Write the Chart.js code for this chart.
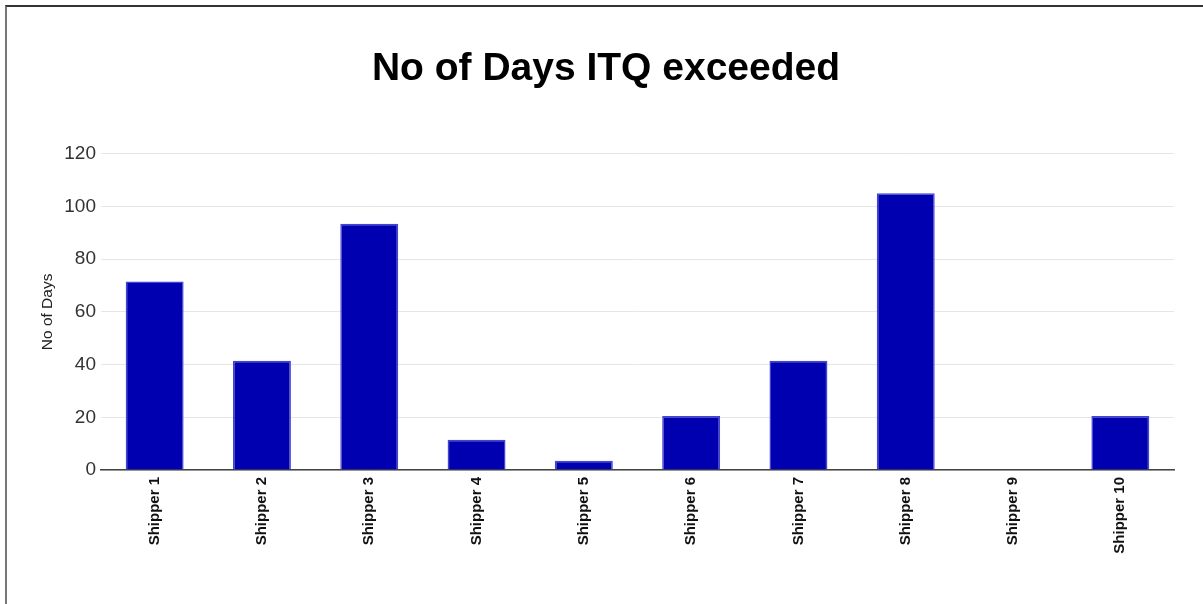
<!DOCTYPE html>
<html>
<head>
<meta charset="utf-8">
<title>No of Days ITQ exceeded</title>
<script src="https://cdn.jsdelivr.net/npm/chart.js@4"></script>
<style>
  html, body { margin: 0; padding: 0; background: #fff; overflow: hidden; }
  #wrap { position: relative; width: 1203px; height: 604px; }
  #frame {
    position: absolute; left: 5px; top: 5px; right: -10px; bottom: -10px;
    border-top: 2px solid #333; border-left: 2px solid #777;
  }
  #chart { position: absolute; left: 0; top: 0; }
</style>
</head>
<body>
<div id="wrap">
  <div id="frame"></div>
  <canvas id="chart" width="1203" height="604"></canvas>
</div>
<script>
// chart data
const shippers = ["Shipper 1", "Shipper 2", "Shipper 3", "Shipper 4", "Shipper 5",
  "Shipper 6", "Shipper 7", "Shipper 8", "Shipper 9", "Shipper 10"];
const daysExceeded = [71.5, 41.5, 93.5, 11.5, 3.5, 20.5, 41.5, 105, 0, 20.5];
const yTicks = [0, 20, 40, 60, 80, 100, 120];

const fontFamily = "'Liberation Sans', Arial, Helvetica, sans-serif";

const ctx = document.getElementById("chart").getContext("2d");
const chart = new Chart(ctx, {
  type: "bar",
  data: {
    labels: shippers,
    datasets: [
      {
        label: "No of Days",
        data: daysExceeded,
        backgroundColor: "#0000b0",
        borderColor: "#4444d4",
        borderWidth: 1.5,
        categoryPercentage: 1,
        barPercentage: 0.54,
      },
    ],
  },
  options: {
    responsive: false,
    animation: false,
    layout: {
      padding: { top: 0, left: 38, right: 29, bottom: 0 },
    },
    plugins: {
      legend: { display: false },
      tooltip: { enabled: false },
      title: {
        display: true,
        text: "No of Days ITQ exceeded",
        color: "#000",
        font: { family: fontFamily, size: 39, weight: "bold" },
        padding: { top: 46, bottom: 61 },
      },
    },
    scales: {
      x: {
        grid: { display: false, drawTicks: false },
        border: { display: true, color: "#444", width: 1.5 },
        ticks: {
          color: "#111",
          font: { family: fontFamily, size: 15, weight: "bold" },
          minRotation: 90,
          maxRotation: 90,
          padding: 7,
          autoSkip: false,
        },
        afterFit: function (scale) {
          scale.height = 134;
        },
      },
      y: {
        min: 0,
        max: yTicks[yTicks.length - 1],
        afterBuildTicks: function (scale) {
          scale.ticks = yTicks.map((v) => ({ value: v }));
        },
        grid: { color: "#e6e6e6", lineWidth: 1, drawTicks: false },
        border: { display: false },
        ticks: {
          color: "#333",
          font: { family: fontFamily, size: 19 },
          padding: 5,
        },
        title: {
          display: true,
          text: "No of Days",
          color: "#222",
          font: { family: fontFamily, size: 15.5 },
          padding: { top: 0, bottom: 0 },
        },
        afterFit: function (scale) {
          scale.width = 101 - 38;
        },
      },
    },
  },
});
</script>
</body>
</html>
